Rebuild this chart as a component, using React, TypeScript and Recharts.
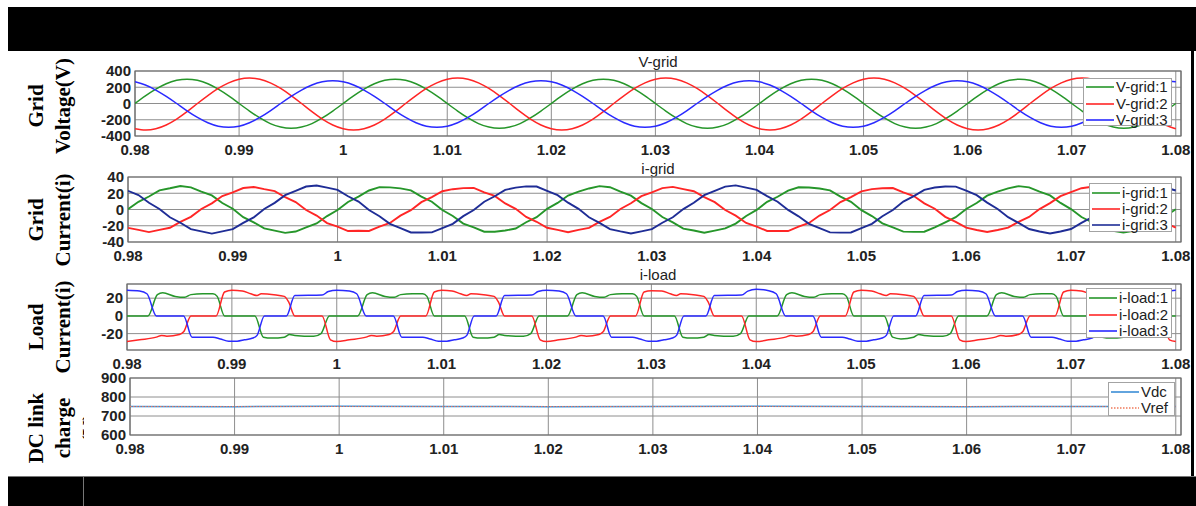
import React from 'react'
import { CartesianGrid, Legend, Line, LineChart, ReferenceArea, XAxis, YAxis } from 'recharts'

// Simulation traces (3-phase grid, nonlinear load, DC link).
// Time axis: 0.98 .. 1.08 s, samples every 1 ms for the sinusoidal traces.

const TIME = [
  0.98, 0.981, 0.982, 0.983, 0.984, 0.985, 0.986, 0.987, 0.988, 0.989,
  0.99, 0.991, 0.992, 0.993, 0.994, 0.995, 0.996, 0.997, 0.998, 0.999,
  1, 1.001, 1.002, 1.003, 1.004, 1.005, 1.006, 1.007, 1.008, 1.009,
  1.01, 1.011, 1.012, 1.013, 1.014, 1.015, 1.016, 1.017, 1.018, 1.019,
  1.02, 1.021, 1.022, 1.023, 1.024, 1.025, 1.026, 1.027, 1.028, 1.029,
  1.03, 1.031, 1.032, 1.033, 1.034, 1.035, 1.036, 1.037, 1.038, 1.039,
  1.04, 1.041, 1.042, 1.043, 1.044, 1.045, 1.046, 1.047, 1.048, 1.049,
  1.05, 1.051, 1.052, 1.053, 1.054, 1.055, 1.056, 1.057, 1.058, 1.059,
  1.06, 1.061, 1.062, 1.063, 1.064, 1.065, 1.066, 1.067, 1.068, 1.069,
  1.07, 1.071, 1.072, 1.073, 1.074, 1.075, 1.076, 1.077, 1.078, 1.079,
  1.08,
]

const X_TICKS = [0.98, 0.99, 1, 1.01, 1.02, 1.03, 1.04, 1.05, 1.06, 1.07, 1.08]

// V-grid (V)
const V_GRID_1 = [
  0, 93, 176, 243, 285, 300, 285, 243, 176, 93, 0, -93, -178, -247, -290, -305, -290, -247, -178, -93,
  0, 93, 176, 243, 285, 300, 285, 243, 176, 93, 0, -93, -178, -247, -290, -305, -290, -247, -178, -93,
  0, 93, 176, 243, 285, 300, 285, 243, 176, 93, 0, -93, -178, -247, -290, -305, -290, -247, -178, -93,
  0, 93, 176, 243, 285, 300, 285, 243, 176, 93, 0, -93, -178, -247, -290, -305, -290, -247, -178, -93,
  0, 93, 176, 243, 285, 300, 285, 243, 176, 93, 0, -93, -178, -247, -290, -305, -290, -247, -178, -93,
  0,
]
const V_GRID_2 = [
  -310, -326, -310, -264, -192, -101, 0, 97, 185, 254, 299, 314, 299, 254, 185, 97, 0, -101, -192, -264,
  -310, -326, -310, -264, -192, -101, 0, 97, 185, 254, 299, 314, 299, 254, 185, 97, 0, -101, -192, -264,
  -310, -326, -310, -264, -192, -101, 0, 97, 185, 254, 299, 314, 299, 254, 185, 97, 0, -101, -192, -264,
  -310, -326, -310, -264, -192, -101, 0, 97, 185, 254, 299, 314, 299, 254, 185, 97, 0, -101, -192, -264,
  -310, -326, -310, -264, -192, -101, 0, 97, 185, 254, 299, 314, 299, 254, 185, 97, 0, -101, -192, -264,
  -310,
]
const V_GRID_3 = [
  267, 227, 165, 87, 0, -91, -172, -237, -279, -293, -279, -237, -172, -91, 0, 87, 165, 227, 267, 281,
  267, 227, 165, 87, 0, -91, -172, -237, -279, -293, -279, -237, -172, -91, 0, 87, 165, 227, 267, 281,
  267, 227, 165, 87, 0, -91, -172, -237, -279, -293, -279, -237, -172, -91, 0, 87, 165, 227, 267, 281,
  267, 227, 165, 87, 0, -91, -172, -237, -279, -293, -279, -237, -172, -91, 0, 87, 165, 227, 267, 281,
  267, 227, 165, 87, 0, -91, -172, -237, -279, -293, -279, -237, -172, -91, 0, 87, 165, 227, 267, 281,
  267,
]

// i-grid (A), noisy
const I_GRID_1 = [
  0.4, 9.5, 16.0, 23.6, 26.1, 28.9, 27.3, 22.1, 17.4, 8.0, 0.9, -9.4, -15.8, -23.3, -26.0, -28.8, -27.1, -22.0, -17.2, -8.1,
  -0.6, 9.3, 15.9, 23.4, 27.5, 27.2, 26.0, 23.5, 15.8, 9.6, -0.7, -8.0, -17.3, -22.1, -27.3, -27.4, -25.9, -23.4, -15.7, -9.5,
  0.8, 8.1, 17.2, 22.0, 25.9, 28.8, 27.4, 21.9, 17.1, 7.9, 0.6, -9.3, -15.9, -23.5, -25.8, -28.6, -26.0, -23.3, -17.3, -8.0,
  -0.5, 9.4, 15.7, 23.3, 27.4, 27.1, 25.8, 23.6, 15.9, 9.5, -0.8, -8.1, -17.0, -22.0, -27.2, -27.5, -27.3, -21.9, -15.8, -9.4,
  0.7, 8.0, 17.1, 22.1, 26.0, 28.7, 27.2, 22.0, 17.3, 8.1, 0.5, -9.2, -15.7, -23.4, -26.1, -28.5, -26.2, -23.1, -17.1, -8.2,
  0.3,
]
const I_GRID_2 = [
  -22.6, -25.0, -27.8, -25.1, -22.5, -15.2, -9.0, 0.7, 7.6, 16.6, 21.1, 26.4, 27.7, 25.0, 22.6, 15.1, 9.1, -0.6, -7.5, -16.7,
  -21.0, -26.5, -26.2, -26.4, -21.1, -16.6, -7.6, -0.8, 9.0, 15.2, 22.5, 25.0, 26.3, 26.5, 21.0, 16.7, 7.5, 0.8, -9.1, -15.1,
  -22.5, -25.1, -27.9, -25.0, -22.6, -15.3, -9.1, 0.6, 7.7, 16.5, 21.2, 26.3, 27.8, 25.1, 22.5, 15.2, 9.0, -0.7, -7.6, -16.6,
  -21.1, -26.4, -26.3, -26.5, -21.0, -16.5, -7.5, -0.7, 9.1, 15.3, 22.4, 25.1, 26.2, 26.4, 21.1, 16.6, 7.6, 0.9, -9.0, -15.2,
  -22.4, -25.2, -27.7, -25.2, -22.4, -15.1, -9.2, 0.5, 7.8, 16.4, 21.3, 26.2, 27.9, 25.2, 22.4, 15.3, 8.9, -0.5, -7.7, -16.5,
  -22.2,
]
const I_GRID_3 = [
  23.0, 17.8, 8.3, 0.7, -9.6, -16.3, -24.2, -26.9, -29.7, -26.9, -24.1, -16.4, -9.7, 0.6, 8.2, 17.7, 22.8, 28.3, 29.6, 26.9,
  24.2, 16.3, 9.7, -0.6, -8.3, -17.6, -22.9, -28.3, -28.3, -28.2, -22.8, -17.7, -8.2, -0.7, 9.6, 16.3, 24.1, 26.9, 28.4, 28.3,
  22.9, 17.7, 8.4, 0.8, -9.5, -16.4, -24.1, -27.0, -29.6, -27.0, -24.2, -16.3, -9.6, 0.5, 8.3, 17.6, 22.9, 28.2, 29.7, 27.0,
  24.1, 16.4, 9.6, -0.5, -8.4, -17.7, -23.0, -28.2, -28.4, -28.3, -22.9, -17.6, -8.3, -0.6, 9.7, 16.4, 24.2, 27.0, 28.3, 28.2,
  23.1, 17.6, 8.5, 0.6, -9.4, -16.5, -24.0, -27.1, -29.5, -27.1, -24.0, -16.5, -9.5, 0.7, 8.4, 17.5, 23.0, 28.1, 29.6, 27.1,
  23.4,
]

// i-load (A), [time, value] knots of the rectifier currents
const I_LOAD_1 = [
  [0.98, 0], [0.982, 0], [0.9829, 24], [0.9834, 26], [0.9846, 22], [0.9855, 21], [0.9861, 24], [0.9872, 25], [0.9882, 25], [0.9886, 22],
  [0.9893, 0], [0.9922, 0], [0.993, -24], [0.9938, -25], [0.995, -24], [0.9955, -21], [0.996, -22], [0.9978, -23], [0.9985, -20], [0.9993, 0],
  [1.0, 0], [1.002, 0], [1.0029, 24], [1.0034, 26], [1.0046, 22], [1.0055, 21], [1.0061, 24], [1.0072, 25], [1.0082, 25], [1.0086, 22],
  [1.0093, 0], [1.0122, 0], [1.013, -24], [1.0138, -25], [1.015, -24], [1.0155, -21], [1.016, -22], [1.0178, -23], [1.0185, -20], [1.0193, 0],
  [1.02, 0], [1.022, 0], [1.0229, 24], [1.0234, 26], [1.0246, 22], [1.0255, 21], [1.0261, 24], [1.0272, 25], [1.0282, 25], [1.0286, 22],
  [1.0293, 0], [1.0322, 0], [1.033, -24], [1.0338, -25], [1.035, -24], [1.0355, -21], [1.036, -22], [1.0378, -23], [1.0385, -20], [1.0393, 0],
  [1.04, 0], [1.042, 0], [1.0429, 24], [1.0434, 26], [1.0446, 22], [1.0455, 21], [1.0461, 24], [1.0472, 25], [1.0482, 25], [1.0486, 22],
  [1.0493, 0], [1.0522, 0], [1.053, -24], [1.0538, -26], [1.055, -24], [1.0555, -21], [1.056, -22], [1.0578, -23], [1.0585, -20], [1.0593, 0],
  [1.06, 0], [1.062, 0], [1.0629, 24], [1.0634, 26], [1.0646, 22], [1.0655, 21], [1.0661, 24], [1.0672, 25], [1.0682, 25], [1.0686, 22],
  [1.0693, 0], [1.0722, 0], [1.073, -24], [1.0738, -25], [1.075, -24], [1.0755, -21], [1.076, -22], [1.0778, -23], [1.0785, -20], [1.0793, 0],
  [1.08, 0],
]
const I_LOAD_2 = [
  [0.98, -29], [0.9812, -27], [0.9828, -24], [0.9833, -22], [0.9838, -23], [0.985, -21], [0.9854, -18], [0.9861, 0], [0.9885, 0], [0.9893, 27], [0.99, 29],
  [0.991, 28], [0.9918, 25], [0.9924, 23], [0.9928, 25], [0.994, 24], [0.995, 22], [0.9954, 16], [0.996, 0], [0.9986, 0], [0.9994, -27],
  [1.0, -29], [1.0012, -27], [1.0028, -24], [1.0033, -22], [1.0038, -23], [1.005, -21], [1.0054, -18], [1.0061, 0], [1.0085, 0], [1.0093, 27], [1.01, 29],
  [1.011, 28], [1.0118, 25], [1.0124, 23], [1.0128, 25], [1.014, 24], [1.015, 22], [1.0154, 16], [1.016, 0], [1.0186, 0], [1.0194, -27],
  [1.02, -29], [1.0212, -27], [1.0228, -24], [1.0233, -22], [1.0238, -23], [1.025, -21], [1.0254, -18], [1.0261, 0], [1.0285, 0], [1.0293, 27], [1.03, 28.5],
  [1.031, 28], [1.0318, 25], [1.0324, 23], [1.0328, 25], [1.034, 24], [1.035, 22], [1.0354, 16], [1.036, 0], [1.0386, 0], [1.0394, -27],
  [1.04, -29], [1.0412, -27], [1.0428, -24], [1.0433, -22], [1.0438, -23], [1.045, -21], [1.0454, -18], [1.0461, 0], [1.0485, 0], [1.0493, 27], [1.05, 29],
  [1.051, 28], [1.0518, 25], [1.0524, 23], [1.0528, 25], [1.054, 24], [1.055, 22], [1.0554, 16], [1.056, 0], [1.0586, 0], [1.0594, -27],
  [1.06, -29], [1.0612, -27], [1.0628, -24], [1.0633, -22], [1.0638, -23], [1.065, -21], [1.0654, -18], [1.0661, 0], [1.0685, 0], [1.0693, 27], [1.07, 29],
  [1.071, 28], [1.0718, 25], [1.0724, 23], [1.0728, 25], [1.074, 24], [1.075, 22], [1.0754, 16], [1.076, 0], [1.0786, 0], [1.0794, -27],
  [1.08, -29],
]
const I_LOAD_3 = [
  [0.98, 29], [0.9812, 28], [0.9819, 25], [0.9828, 0], [0.9854, 0], [0.9862, -24], [0.9882, -24], [0.9889, -26], [0.9897, -28.5],
  [0.9905, -28.5], [0.9912, -27], [0.992, -25], [0.9924, -22], [0.9931, 0], [0.9952, 0], [0.996, 23], [0.9986, 23.5], [0.9992, 27.5],
  [1.0, 29], [1.0012, 28], [1.0019, 25], [1.0028, 0], [1.0054, 0], [1.0062, -24], [1.0082, -24], [1.0089, -26], [1.0097, -28.5],
  [1.0105, -28.5], [1.0112, -27], [1.012, -25], [1.0124, -22], [1.0131, 0], [1.0152, 0], [1.016, 23], [1.0186, 23.5], [1.0192, 27.5],
  [1.02, 29], [1.0212, 28], [1.0219, 25], [1.0228, 0], [1.0254, 0], [1.0262, -24], [1.0282, -24], [1.0289, -26], [1.0297, -28.5],
  [1.0305, -28.5], [1.0312, -27], [1.032, -25], [1.0324, -22], [1.0331, 0], [1.0352, 0], [1.036, 23], [1.0386, 23.5], [1.0392, 28],
  [1.04, 30], [1.0412, 28.5], [1.0419, 25], [1.0428, 0], [1.0454, 0], [1.0462, -24], [1.0482, -24], [1.0489, -26], [1.0497, -28.5],
  [1.0505, -28.5], [1.0512, -27], [1.052, -25], [1.0524, -22], [1.0531, 0], [1.0552, 0], [1.056, 23], [1.0586, 23.5], [1.0592, 27.5],
  [1.06, 29], [1.0612, 28], [1.0619, 25], [1.0628, 0], [1.0654, 0], [1.0662, -24], [1.0682, -24], [1.0689, -26], [1.0697, -28.5],
  [1.0705, -28.5], [1.0712, -27], [1.072, -25], [1.0724, -22], [1.0731, 0], [1.0752, 0], [1.076, 23], [1.0786, 23.5], [1.0792, 27.5],
  [1.08, 29],
]

// DC link (V)
const VDC = [
  [0.98, 750], [0.99, 749], [1, 751], [1.01, 750], [1.02, 749], [1.03, 750],
  [1.04, 751], [1.05, 750], [1.06, 749], [1.07, 750], [1.08, 750],
]
const VREF = [[0.98, 750], [1.08, 750]]

const SANS = '"Liberation Sans", Arial, Helvetica, sans-serif'
const SERIF = '"Liberation Serif", "Times New Roman", serif'
const X_MAX = 1.0805
const PLOT_RIGHT = 1181
const PAD_TOP = 12

const toPts = (pairs: number[][]) => pairs.map(([t, v]) => ({ t, v }))

const vGridRows = TIME.map((t, i) => ({ t, a: V_GRID_1[i], b: V_GRID_2[i], c: V_GRID_3[i] }))
const iGridRows = TIME.map((t, i) => ({ t, a: I_GRID_1[i], b: I_GRID_2[i], c: I_GRID_3[i] }))

type SeriesDef = {
  key: string
  name: string
  color: string
  curve: 'linear' | 'monotone' | 'natural'
  width?: number
  dash?: string
  data?: { t: number; v: number }[]
}

type LegendDef = { left: number; top: number; width: number; height: number; padTop: number; rowH: number; lineW: number }

function LegendBox({ payload, box }: { payload?: any[]; box: LegendDef }) {
  return (
    <div
      style={{
        width: box.width,
        height: box.height,
        boxSizing: 'border-box',
        background: '#fff',
        border: '1px solid #a3a3a3',
        paddingTop: box.padTop,
        paddingLeft: 2,
      }}
    >
      {(payload ?? []).map((e) => (
        <div key={e.value} style={{ display: 'flex', alignItems: 'center', height: box.rowH }}>
          <svg width={box.lineW} height={4} style={{ display: 'block' }}>
            <line
              x1={0}
              y1={2}
              x2={box.lineW}
              y2={2}
              stroke={e.color}
              strokeWidth={1.6}
              strokeDasharray={e.payload?.strokeDasharray}
            />
          </svg>
          <span style={{ marginLeft: 2, fontSize: 15, fontFamily: SANS, color: '#222', lineHeight: `${box.rowH}px` }}>
            {e.value}
          </span>
        </div>
      ))}
    </div>
  )
}

function Panel({
  plotLeft,
  plotTop,
  plotBottom,
  yDomain,
  yTicks,
  rows,
  series,
  legend,
}: {
  plotLeft: number
  plotTop: number
  plotBottom: number
  yDomain: [number, number]
  yTicks: number[]
  rows?: any[]
  series: SeriesDef[]
  legend: LegendDef
}) {
  const chartTop = plotTop - PAD_TOP
  const height = plotBottom - plotTop + PAD_TOP + 24
  const tick = { fill: '#222', fontSize: 15, fontWeight: 700, fontFamily: SANS }
  return (
    <div style={{ position: 'absolute', left: 0, top: chartTop }}>
      <LineChart
        width={1196}
        height={height}
        data={rows}
        margin={{ top: PAD_TOP, right: 1196 - PLOT_RIGHT, bottom: 0, left: plotLeft - 40 }}
      >
        <CartesianGrid stroke="#8e8e8e" strokeWidth={1} />
        <XAxis
          dataKey="t"
          type="number"
          domain={[0.98, X_MAX]}
          ticks={X_TICKS}
          interval={0}
          allowDataOverflow
          height={24}
          axisLine={false}
          tickLine={false}
          tick={tick}
          tickFormatter={(v) => String(v)}
        />
        <YAxis
          type="number"
          domain={yDomain}
          ticks={yTicks}
          interval={0}
          allowDataOverflow
          width={40}
          axisLine={false}
          tickLine={false}
          tickSize={2}
          tickMargin={2}
          tick={tick}
        />
        <ReferenceArea
          x1={0.98}
          x2={X_MAX}
          y1={yDomain[0]}
          y2={yDomain[1]}
          fill="none"
          stroke="#6a6a6a"
          strokeWidth={1.2}
          ifOverflow="visible"
        />
        {series.map((s) => (
          <Line
            key={s.name}
            data={s.data}
            dataKey={s.key}
            name={s.name}
            type={s.curve}
            stroke={s.color}
            strokeWidth={s.width ?? 1.5}
            strokeDasharray={s.dash}
            dot={false}
            activeDot={false}
            isAnimationActive={false}
          />
        ))}
        <Legend
          layout="horizontal"
          verticalAlign="middle"
          align="center"
          wrapperStyle={{ left: legend.left, top: legend.top - chartTop, width: legend.width, height: legend.height }}
          content={(props: any) => <LegendBox payload={props.payload} box={legend} />}
        />
      </LineChart>
    </div>
  )
}

function SideLabel({ text, cx, cy }: { text: string; cx: number; cy: number }) {
  return (
    <div
      style={{
        position: 'absolute',
        left: cx,
        top: cy,
        transform: 'translate(-50%, -50%) rotate(-90deg)',
        whiteSpace: 'pre',
        textAlign: 'center',
        lineHeight: '27px',
        fontSize: 21,
        fontWeight: 700,
        fontFamily: SERIF,
        color: '#000',
      }}
    >
      {text}
    </div>
  )
}

function Title({ text, y }: { text: string; y: number }) {
  return (
    <div
      style={{
        position: 'absolute',
        left: 558,
        width: 200,
        top: y - 9,
        height: 18,
        lineHeight: '18px',
        textAlign: 'center',
        fontSize: 15,
        fontFamily: SANS,
        color: '#222',
      }}
    >
      {text}
    </div>
  )
}

const GREEN = '#26962a'
const RED = '#ff2626'
const BLUE = '#2a2aff'
const NAVY = '#1f2d96'

export default function App() {
  return (
    <div style={{ position: 'absolute', left: 0, top: 0, width: 1196, height: 506, background: '#fff', overflow: 'hidden' }}>
      {/* table frame */}
      <div style={{ position: 'absolute', left: 8, top: 7, width: 1188, height: 44, background: '#000' }} />
      <div style={{ position: 'absolute', left: 1191, top: 51, width: 3, height: 425, background: '#000' }} />
      <div style={{ position: 'absolute', left: 8, top: 476, width: 1188, height: 30, background: '#000', borderTop: '1px solid #777', boxSizing: 'border-box' }} />
      <div style={{ position: 'absolute', left: 83, top: 476, width: 1, height: 30, background: '#777' }} />

      {/* row labels */}
      <div style={{ position: 'absolute', left: 8, top: 51, width: 76, height: 425, overflow: 'hidden' }}>
        <SideLabel text={'Grid\nVoltage(V)'} cx={41.5} cy={106 - 51} />
        <SideLabel text={'Grid\nCurrent(i)'} cx={41.5} cy={220 - 51} />
        <SideLabel text={'Load\nCurrent(i)'} cx={41.5} cy={327 - 51} />
        <SideLabel text={'DC link\ncharge\n(V)'} cx={55} cy={428 - 51} />
      </div>

      <Title text="V-grid" y={62} />
      <Title text="i-grid" y={169} />
      <Title text="i-load" y={275} />

      <Panel
        plotLeft={135}
        plotTop={71}
        plotBottom={136}
        yDomain={[-400, 400]}
        yTicks={[-400, -200, 0, 200, 400]}
        rows={vGridRows}
        series={[
          { key: 'a', name: 'V-grid:1', color: GREEN, curve: 'natural' },
          { key: 'b', name: 'V-grid:2', color: RED, curve: 'natural' },
          { key: 'c', name: 'V-grid:3', color: BLUE, curve: 'natural' },
        ]}
        legend={{ left: 1083, top: 78, width: 89, height: 48, padTop: 0, rowH: 16.5, lineW: 28 }}
      />
      <Panel
        plotLeft={128}
        plotTop={177}
        plotBottom={242}
        yDomain={[-40, 40]}
        yTicks={[-40, -20, 0, 20, 40]}
        rows={iGridRows}
        series={[
          { key: 'a', name: 'i-grid:1', color: GREEN, curve: 'linear', width: 1.9 },
          { key: 'b', name: 'i-grid:2', color: RED, curve: 'linear', width: 1.9 },
          { key: 'c', name: 'i-grid:3', color: NAVY, curve: 'linear', width: 1.9 },
        ]}
        legend={{ left: 1089, top: 183, width: 83, height: 49, padTop: 1, rowH: 16, lineW: 28 }}
      />
      <Panel
        plotLeft={127}
        plotTop={284}
        plotBottom={350}
        yDomain={[-38.5, 36]}
        yTicks={[-20, 0, 20]}
        series={[
          { key: 'v', name: 'i-load:1', color: GREEN, curve: 'monotone', data: toPts(I_LOAD_1) },
          { key: 'v', name: 'i-load:2', color: RED, curve: 'monotone', data: toPts(I_LOAD_2) },
          { key: 'v', name: 'i-load:3', color: BLUE, curve: 'monotone', data: toPts(I_LOAD_3) },
        ]}
        legend={{ left: 1086, top: 288, width: 86, height: 50, padTop: 1, rowH: 16.5, lineW: 28 }}
      />
      <Panel
        plotLeft={130}
        plotTop={378}
        plotBottom={435}
        yDomain={[600, 900]}
        yTicks={[600, 700, 800, 900]}
        series={[
          { key: 'v', name: 'Vdc', color: '#3b8ed6', curve: 'linear', data: toPts(VDC) },
          { key: 'v', name: 'Vref', color: '#f07a5a', curve: 'linear', width: 1.2, dash: '1.5 1.5', data: toPts(VREF) },
        ]}
        legend={{ left: 1108, top: 382, width: 67, height: 34, padTop: 1, rowH: 16, lineW: 28 }}
      />
    </div>
  )
}
